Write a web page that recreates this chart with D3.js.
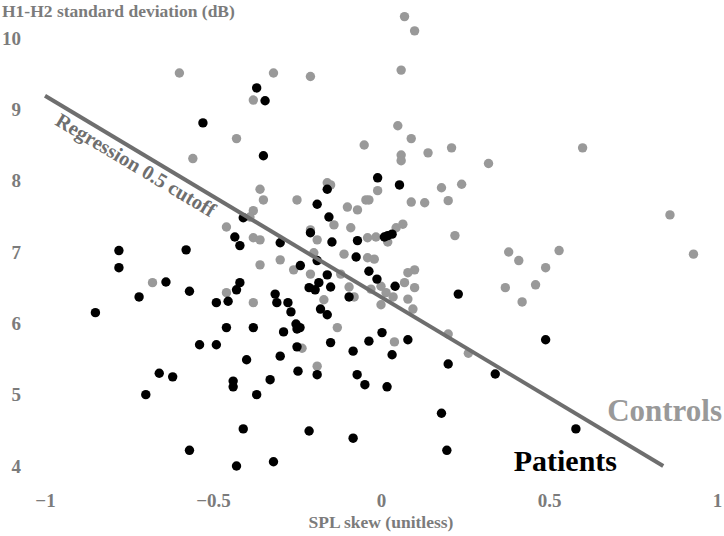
<!DOCTYPE html>
<html>
<head>
<meta charset="utf-8">
<script src="https://cdn.jsdelivr.net/npm/d3@7"></script>
<style>
  html, body { margin: 0; padding: 0; background: #fff; }
  svg { display: block; }
  text { font-family: "Liberation Serif", "Times New Roman", serif; font-weight: bold; }
</style>
</head>
<body>
<svg id="chart" width="724" height="536"></svg>
<script>
// ---- data ----
const controlsX = [-0.60,-0.38,-0.43,-0.56,0.07,0.10,-0.32,-0.21,0.06,0.05,0.09,-0.05,0.06,0.06,0.14,0.21,0.32,0.60,0.86,0.93,
  0.38,0.41,0.53,0.49,0.37,0.46,0.42,0.26,-0.46,-0.38,-0.36,-0.68,-0.46,-0.38,-0.01,0.18,0.24,-0.16,-0.15,-0.36,
  -0.35,-0.25,-0.10,-0.07,-0.045,-0.036,0.09,0.13,0.20,-0.14,-0.38,-0.39,-0.09,0.045,0.065,-0.21,-0.19,-0.04,-0.015,0.02,
  0.22,-0.20,-0.11,-0.04,-0.02,-0.30,-0.36,-0.26,-0.21,-0.12,0.10,0.08,0.07,0.00,0.10,-0.095,-0.03,0.015,0.036,0.08,
  -0.17,-0.08,0.00,0.095,-0.13,0.04,0.20,-0.235,-0.19];
const controlsY = [9.51,9.13,8.59,8.31,10.30,10.10,9.51,9.46,9.55,8.77,8.59,8.50,8.36,8.28,8.39,8.46,8.24,8.46,7.52,6.97,
  7.00,6.88,7.02,6.78,6.50,6.54,6.30,5.58,7.35,7.20,7.17,6.57,6.43,6.29,7.86,7.90,7.95,7.97,7.94,7.88,
  7.73,7.73,7.63,7.59,7.73,7.73,7.70,7.69,7.72,7.38,7.58,7.49,7.34,7.34,7.39,7.31,7.17,7.20,7.21,7.14,
  7.23,6.99,6.97,6.92,6.90,6.89,6.82,6.75,6.69,6.69,6.75,6.71,6.57,6.52,6.50,6.51,6.48,6.43,6.37,6.34,
  6.33,6.37,6.26,6.20,5.94,5.74,5.85,5.65,5.40];

const patientsX = [-0.37,-0.345,-0.53,-0.35,-0.01,0.055,-0.16,-0.19,-0.155,-0.41,-0.435,-0.42,-0.78,-0.78,-0.58,-0.64,-0.72,-0.57,-0.85,-0.42,
  -0.43,-0.49,-0.455,-0.46,-0.54,-0.49,-0.40,-0.66,-0.62,-0.70,-0.44,-0.44,-0.41,-0.57,-0.43,-0.21,-0.146,-0.07,0.01,0.02,
  0.033,-0.30,-0.074,-0.19,-0.24,-0.036,-0.16,-0.012,0.042,-0.185,-0.214,-0.196,-0.15,-0.315,-0.31,-0.277,-0.268,-0.095,-0.18,-0.16,
  0.23,-0.38,-0.29,-0.253,-0.241,-0.25,0.003,-0.036,0.08,-0.15,-0.083,0.033,-0.25,-0.30,-0.247,-0.19,0.20,-0.071,-0.048,0.018,
  -0.33,-0.37,0.18,-0.214,-0.083,0.196,-0.32,0.49,0.34,0.58];
const patientsY = [9.30,9.12,8.81,8.35,8.04,7.94,7.88,7.67,7.49,7.48,7.21,7.09,7.02,6.78,7.03,6.58,6.37,6.45,6.15,6.57,
  6.47,6.29,6.31,5.94,5.70,5.70,5.49,5.30,5.25,5.00,5.19,5.11,4.52,4.22,4.00,7.27,7.14,7.16,7.21,7.23,
  7.25,7.13,6.93,6.88,6.81,6.73,6.68,6.62,6.52,6.57,6.50,6.47,6.51,6.41,6.29,6.29,6.16,6.37,6.20,6.12,
  6.41,5.94,5.88,5.99,5.94,5.92,5.87,5.75,5.77,5.73,5.61,5.56,5.67,5.54,5.33,5.28,5.43,5.28,5.14,5.11,
  5.21,5.00,4.74,4.49,4.39,4.22,4.06,5.77,5.29,4.52];

const regressionX = [-1, 0.84];
const regressionY = [9.19, 4.0];

const xTicks = [-1, -0.5, 0, 0.5, 1];
const xTickLabels = ["\u22121", "\u22120.5", "0", "0.5", "1"];
const yTicks = [4, 5, 6, 7, 8, 9, 10];
const yTickLabels = ["4", "5", "6", "7", "8", "9", "10"];

// ---- drawing ----
const svg = d3.select("#chart");
const x = d3.scaleLinear().domain([-1, 1]).range([45, 717]);
const y = d3.scaleLinear().domain([4, 10]).range([466, 38]);

const tickGrey = "#7b7b7b";

// x axis labels
const xAxis = svg.append("g")
  .attr("transform", "translate(0,493)")
  .call(d3.axisBottom(x).tickValues(xTicks).tickSize(0).tickPadding(0)
        .tickFormat((d, i) => xTickLabels[i]));
xAxis.select(".domain").remove();
xAxis.selectAll("text").attr("fill", tickGrey).style("font-size", "19px")
  .style("font-family", "'Liberation Serif', serif").style("font-weight", "bold");

// y axis labels
const yAxis = svg.append("g")
  .attr("transform", "translate(21,0)")
  .call(d3.axisLeft(y).tickValues(yTicks).tickSize(0).tickPadding(0)
        .tickFormat((d, i) => yTickLabels[i]));
yAxis.select(".domain").remove();
yAxis.selectAll("text").attr("fill", tickGrey).style("font-size", "19px")
  .style("font-family", "'Liberation Serif', serif").style("font-weight", "bold");

// axis titles
svg.append("text").attr("x", 2).attr("y", 17)
  .attr("fill", "#7b7b7b").style("font-size", "17.5px")
  .text("H1-H2 standard deviation (dB)");
svg.append("text").attr("x", x(0)).attr("y", 528).attr("text-anchor", "middle")
  .attr("fill", "#7b7b7b").style("font-size", "17.5px")
  .text("SPL skew (unitless)");

// controls
const controls = controlsX.map((v, i) => ({x: v, y: controlsY[i]}));
const patients = patientsX.map((v, i) => ({x: v, y: patientsY[i]}));

svg.append("g").selectAll("circle").data(controls).join("circle")
  .attr("cx", d => x(d.x)).attr("cy", d => y(d.y)).attr("r", 4.7)
  .attr("fill", "#999999");

svg.append("g").selectAll("circle").data(patients).join("circle")
  .attr("cx", d => x(d.x)).attr("cy", d => y(d.y)).attr("r", 4.7)
  .attr("fill", "#000000");

// regression line
const reg = regressionX.map((v, i) => ({x: v, y: regressionY[i]}));
svg.append("path").datum(reg)
  .attr("d", d3.line().x(d => x(d.x)).y(d => y(d.y)))
  .attr("stroke", "#6e6e6e").attr("stroke-width", 4).attr("fill", "none");

// regression label, parallel to the line
const dx = x(reg[1].x) - x(reg[0].x), dy = y(reg[1].y) - y(reg[0].y);
const ang = Math.atan2(dy, dx) * 180 / Math.PI;
const lx = x(reg[0].x) + 9, ly = y(reg[0].y) + 9 * dy / dx + 23;
svg.append("text")
  .attr("transform", `translate(${lx},${ly}) rotate(${ang})`)
  .attr("fill", "#6e6e6e").style("font-size", "20.5px")
  .text("Regression 0.5 cutoff");

// group labels
svg.append("text").attr("x", 722).attr("y", 421).attr("text-anchor", "end")
  .attr("fill", "#999999").style("font-size", "31px").text("Controls");
svg.append("text").attr("x", 617).attr("y", 471).attr("text-anchor", "end")
  .attr("fill", "#000000").style("font-size", "30px").text("Patients");
</script>
</body>
</html>
